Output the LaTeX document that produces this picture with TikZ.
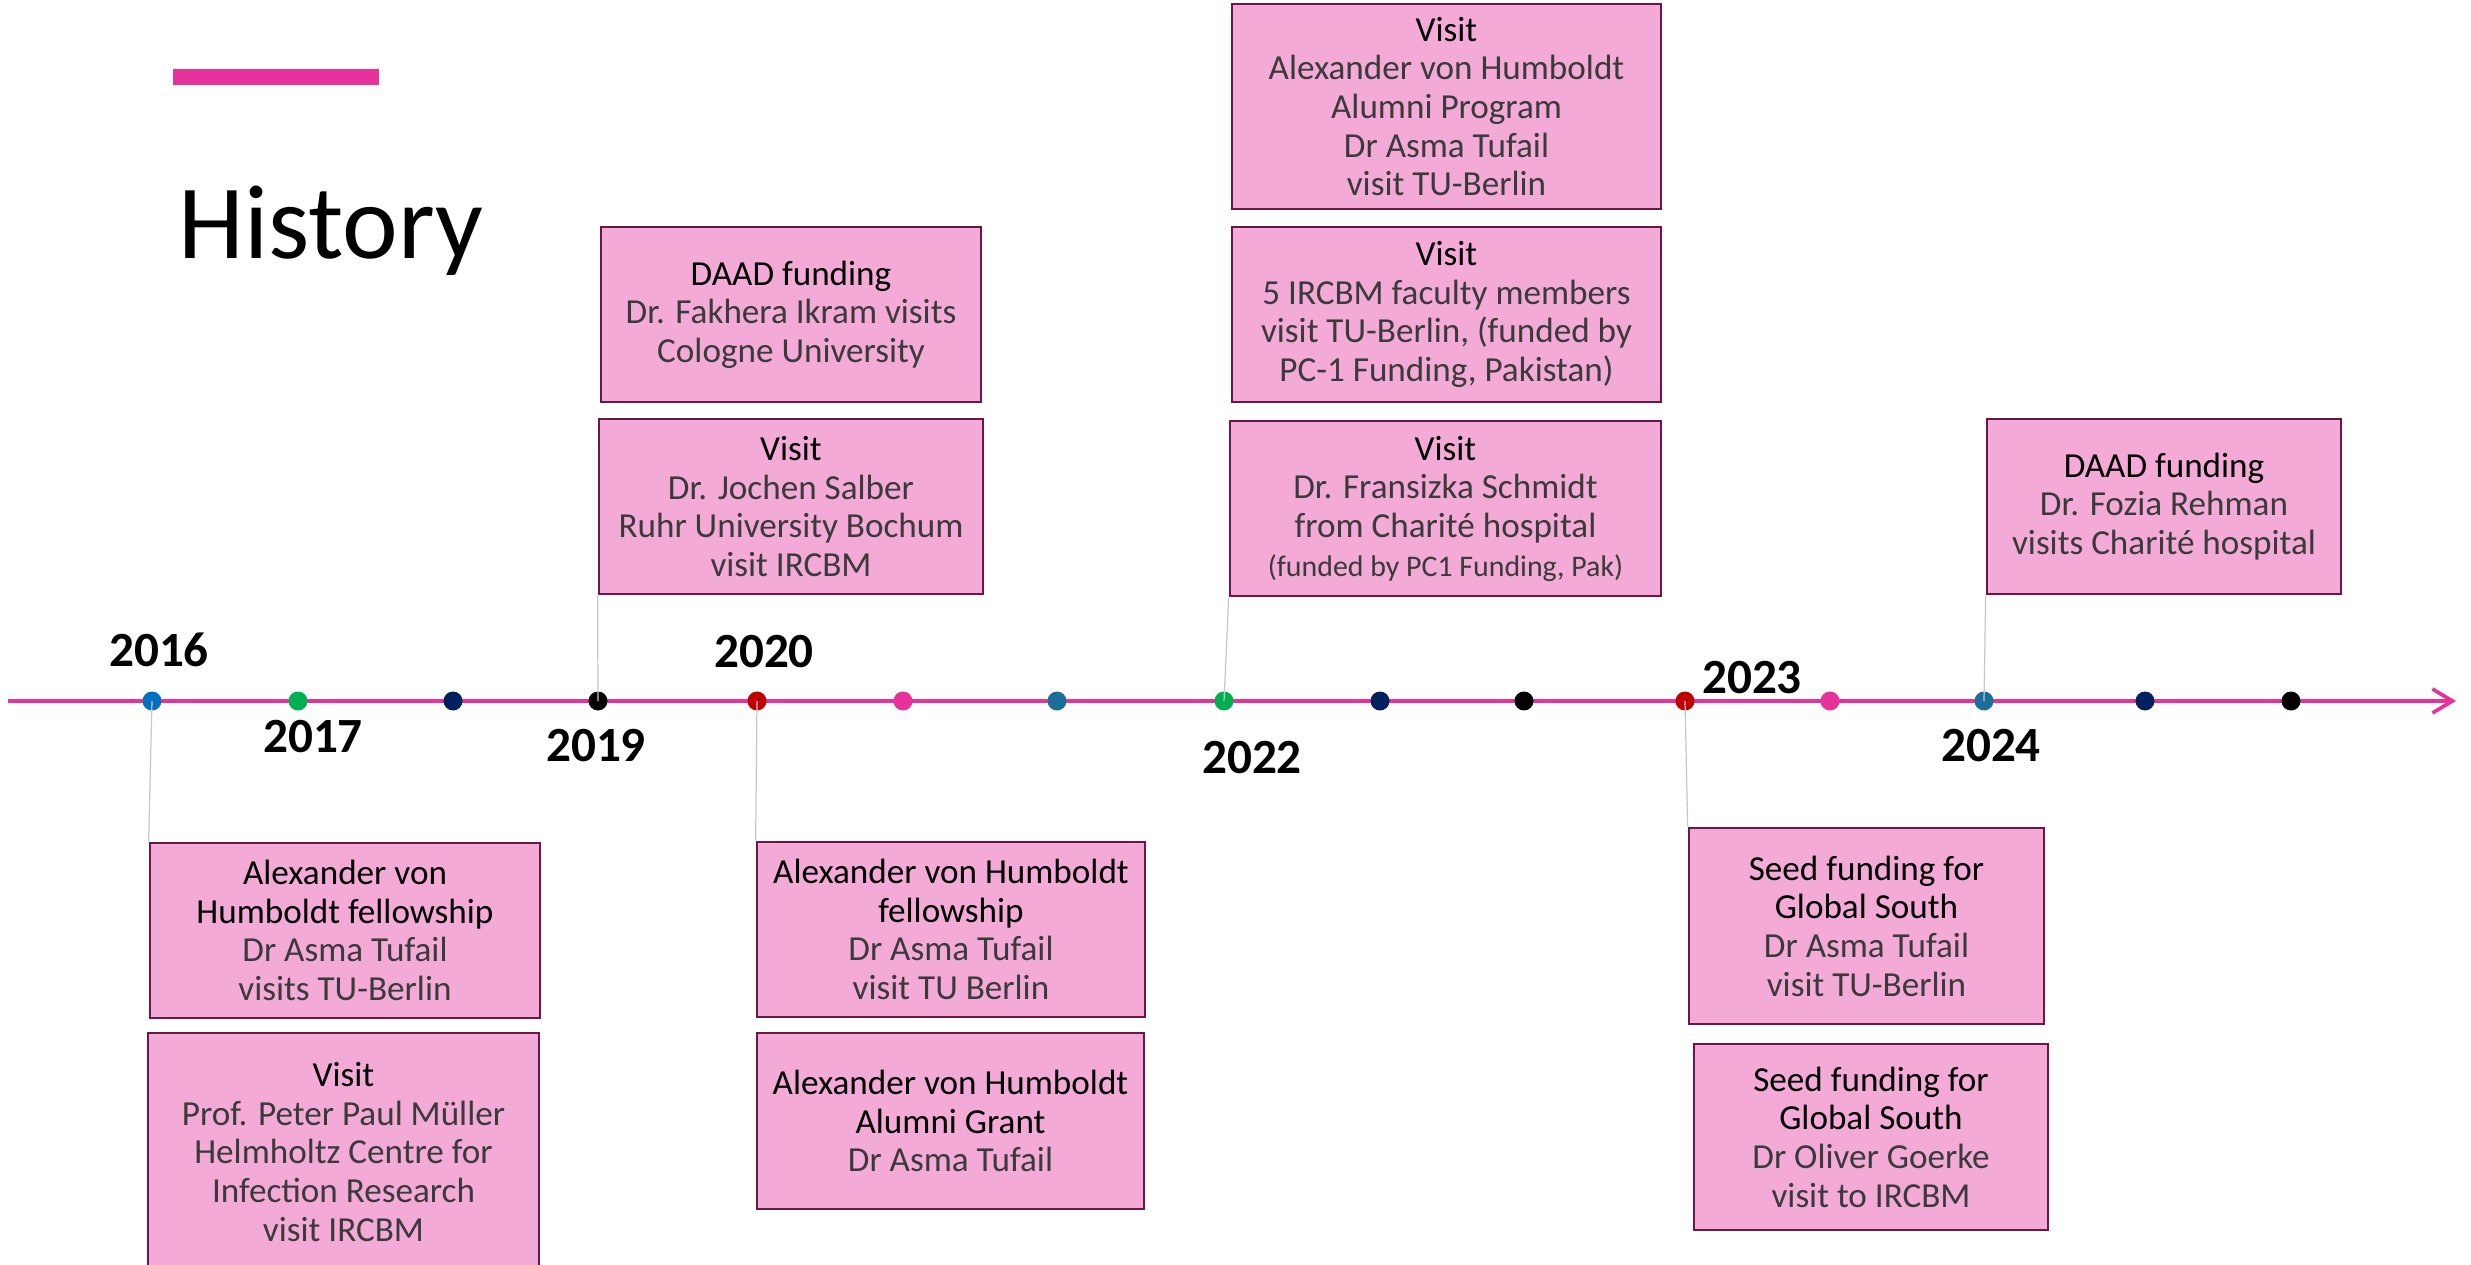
\documentclass[tikz,border=0pt]{standalone}
\usepackage{fontspec}
\setmainfont{Carlito}
\usetikzlibrary{arrows.meta}

\definecolor{accent}{HTML}{E6329A}
\definecolor{boxfill}{HTML}{F3AAD7}
\definecolor{boxline}{HTML}{6B1548}
\definecolor{leadgray}{HTML}{C8C8C8}
\definecolor{bodygray}{HTML}{3A3A3A}
\definecolor{dotblue}{HTML}{0070C0}
\definecolor{dotgreen}{HTML}{00B050}
\definecolor{dotnavy}{HTML}{002060}
\definecolor{dotred}{HTML}{C00000}
\definecolor{dotteal}{HTML}{1B6E9A}

\newcommand{\evhead}[1]{{\color{black}#1}}

\tikzset{
  evbox/.style 2 args={draw=boxline, line width=0.77pt, fill=boxfill, align=center, inner sep=0pt,
    minimum width=#1, minimum height=#2, text=bodygray, font=\fontsize{10}{11}\selectfont},
  yeardot/.style={circle, fill=#1, inner sep=0pt, minimum size=0.19cm},
  yearlbl/.style={font=\fontsize{14}{14}\selectfont\bfseries, inner sep=0pt},
  leader/.style={draw=leadgray, line width=0.35pt},
  timeline/.style={draw=accent, line width=1.05pt, -{Straight Barb[length=0.2cm,width=0.24cm]}},
}

\begin{document}
\begin{tikzpicture}[x=1cm,y=1cm]
            \clip (0,0) rectangle (24.71,-12.65);

            % heading
            \fill[accent] (1.73,-0.69) rectangle (3.79,-0.85);
            \node[anchor=base west, inner sep=0pt, font=\fontsize{30}{30}\selectfont] (title) at (1.78,-2.59) {History};

            % time axis
            \coordinate (tstart) at (0.08,-7.01);
            \coordinate (tend) at (24.56,-7.01);
            \draw[timeline] (tstart) -- (tend);

            \node[yeardot=dotblue]  (d1)  at (1.52,-7.01) {};
            \node[yeardot=dotgreen] (d2)  at (2.98,-7.01) {};
            \node[yeardot=dotnavy]  (d3)  at (4.53,-7.01) {};
            \node[yeardot=black]    (d4)  at (5.98,-7.01) {};
            \node[yeardot=dotred]   (d5)  at (7.57,-7.01) {};
            \node[yeardot=accent]   (d6)  at (9.03,-7.01) {};
            \node[yeardot=dotteal]  (d7)  at (10.57,-7.01) {};
            \node[yeardot=dotgreen] (d8)  at (12.24,-7.01) {};
            \node[yeardot=dotnavy]  (d9)  at (13.80,-7.01) {};
            \node[yeardot=black]    (d10) at (15.24,-7.01) {};
            \node[yeardot=dotred]   (d11) at (16.85,-7.01) {};
            \node[yeardot=accent]   (d12) at (18.30,-7.01) {};
            \node[yeardot=dotteal]  (d13) at (19.84,-7.01) {};
            \node[yeardot=dotnavy]  (d14) at (21.45,-7.01) {};
            \node[yeardot=black]    (d15) at (22.91,-7.01) {};

            \node[yearlbl] (y2016) at (1.59,-6.50) {2016};
            \node[yearlbl] (y2017) at (3.13,-7.37) {2017};
            \node[yearlbl] (y2019) at (5.96,-7.46) {2019};
            \node[yearlbl] (y2020) at (7.64,-6.52) {2020};
            \node[yearlbl] (y2022) at (12.52,-7.58) {2022};
            \node[yearlbl] (y2023) at (17.52,-6.78) {2023};
            \node[yearlbl] (y2024) at (19.91,-7.46) {2024};

            % events
            \node[evbox={3.90cm}{1.75cm}] (b1) at (3.45,-9.305)
                {\evhead{Alexander von}\\\evhead{Humboldt fellowship}\\Dr Asma Tufail\\visits TU-Berlin};
            \node[evbox={3.91cm}{2.38cm}] (b2) at (3.435,-11.52)
                {\evhead{Visit}\\Prof. Peter Paul Müller\\Helmholtz Centre for\\Infection Research\\visit IRCBM};
            \node[evbox={3.80cm}{1.75cm}] (b3) at (7.91,-3.145)
                {\evhead{DAAD funding}\\Dr. Fakhera Ikram visits\\Cologne University};
            \node[evbox={3.84cm}{1.75cm}] (b4) at (7.91,-5.065)
                {\evhead{Visit}\\Dr. Jochen Salber\\Ruhr University Bochum\\visit IRCBM};
            \node[evbox={3.88cm}{1.75cm}] (b5) at (9.51,-9.295)
                {\evhead{Alexander von Humboldt}\\\evhead{fellowship}\\Dr Asma Tufail\\visit TU Berlin};
            \node[evbox={3.87cm}{1.76cm}] (b6) at (9.505,-11.21)
                {\evhead{Alexander von Humboldt}\\\evhead{Alumni Grant}\\Dr Asma Tufail};
            \node[evbox={4.29cm}{2.05cm}] (b7) at (14.465,-1.065)
                {\evhead{Visit}\\Alexander von Humboldt\\Alumni Program\\Dr Asma Tufail\\visit TU-Berlin};
            \node[evbox={4.29cm}{1.75cm}] (b8) at (14.465,-3.145)
                {\evhead{Visit}\\5 IRCBM faculty members\\visit TU-Berlin, (funded by\\PC-1 Funding, Pakistan)};
            \node[evbox={4.31cm}{1.75cm}] (b9) at (14.455,-5.085)
                {\evhead{Visit}\\Dr. Fransizka Schmidt\\from Charité hospital\\{\fontsize{8.5}{11}\selectfont (funded by PC1 Funding, Pak)}};
            \node[evbox={3.54cm}{1.75cm}] (b10) at (21.64,-5.065)
                {\evhead{DAAD funding}\\Dr. Fozia Rehman\\visits Charité hospital};
            \node[evbox={3.55cm}{1.96cm}] (b11) at (18.665,-9.26)
                {\evhead{Seed funding for}\\\evhead{Global South}\\Dr Asma Tufail\\visit TU-Berlin};
            \node[evbox={3.54cm}{1.86cm}] (b12) at (18.71,-11.37)
                {\evhead{Seed funding for}\\\evhead{Global South}\\Dr Oliver Goerke\\visit to IRCBM};

            % leaders
            \draw[leader] (d1.center) -- (b1.north west);
            \draw[leader] (d4.center) -- (b4.south west);
            \draw[leader] (d5.center) -- (b5.north west);
            \draw[leader] (d8.center) -- (b9.south west);
            \draw[leader] (d11.center) -- (b11.north west);
            \draw[leader] (d13.center) -- (b10.south west);

        \end{tikzpicture}
\end{document}
